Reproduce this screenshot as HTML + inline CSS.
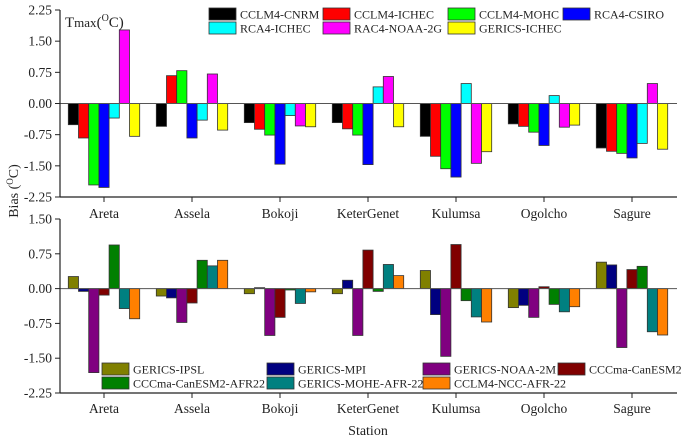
<!DOCTYPE html>
<html><head><meta charset="utf-8"><style>
body{margin:0;background:#fff}
svg, svg text{font-family:"Liberation Serif","DejaVu Serif","Times New Roman",serif;fill:#222}
</style></head><body>
<svg id="c" width="685" height="440" xmlns="http://www.w3.org/2000/svg" font-family="Liberation Serif, DejaVu Serif, serif"></svg>
<script>
const stations=["Areta","Assela","Bokoji","KeterGenet","Kulumsa","Ogolcho","Sagure"];
const topSeries=["CCLM4-CNRM","CCLM4-ICHEC","CCLM4-MOHC","RCA4-CSIRO","RCA4-ICHEC","RAC4-NOAA-2G","GERICS-ICHEC"];
const topColors=["#000000","#ff0000","#00ff00","#0000ff","#00ffff","#ff00ff","#ffff00"];
const topCNRM=[-0.51,-0.55,-0.46,-0.46,-0.79,-0.49,-1.07];
const topICHEC=[-0.83,0.67,-0.62,-0.61,-1.27,-0.55,-1.15];
const topMOHC=[-1.96,0.79,-0.76,-0.76,-1.57,-0.69,-1.20];
const topCSIRO=[-2.02,-0.83,-1.46,-1.47,-1.77,-1.01,-1.31];
const topRICHEC=[-0.35,-0.40,-0.29,0.40,0.48,0.19,-0.96];
const topNOAA=[1.77,0.71,-0.54,0.65,-1.44,-0.57,0.48];
const topGERICS=[-0.79,-0.64,-0.56,-0.56,-1.16,-0.52,-1.10];
const topValues=[topCNRM,topICHEC,topMOHC,topCSIRO,topRICHEC,topNOAA,topGERICS];
const botSeries=["GERICS-IPSL","GERICS-MPI","GERICS-NOAA-2M","CCCma-CanESM2","CCCma-CanESM2-AFR22","GERICS-MOHE-AFR-22","CCLM4-NCC-AFR-22"];
const botColors=["#808000","#000080","#800080","#800000","#008000","#008080","#ff8000"];
const botIPSL=[0.26,-0.16,-0.11,-0.11,0.39,-0.41,0.57];
const botMPI=[-0.06,-0.20,0.02,0.18,-0.56,-0.36,0.51];
const botNOAA=[-1.81,-0.73,-1.01,-1.01,-1.46,-0.62,-1.27];
const botCan=[-0.14,-0.31,-0.62,0.83,0.95,0.04,0.41];
const botCanAFR=[0.94,0.61,-0.03,-0.06,-0.26,-0.34,0.48];
const botMOHE=[-0.43,0.49,-0.32,0.52,-0.61,-0.50,-0.93];
const botNCC=[-0.65,0.61,-0.07,0.28,-0.72,-0.39,-1.00];
const botValues=[botIPSL,botMPI,botNOAA,botCan,botCanAFR,botMOHE,botNCC];
const ticks=[-2.25,-1.50,-0.75,0.00,0.75,1.50,2.25];
const botTicks=[-2.25,-1.50,-0.75,0.00,0.75,1.50];

const svg=document.getElementById('c');
const NS="http://www.w3.org/2000/svg";
const FF="Liberation Serif, DejaVu Serif, serif";
function mk(t,a,parent){const e=document.createElementNS(NS,t);for(const k in a)e.setAttribute(k,a[k]);if(t==='text')e.setAttribute('font-family',FF);(parent||svg).appendChild(e);return e;}
const X0=60,X1=677;
function xs(i){return 104+88*i;}
function panel(name,values,colors,tickList,yTop,yBot,vmax,vmin,labelY){
  const g=mk('g',{});
  
  
  const y=v=>yTop+(vmax-v)/(vmax-vmin)*(yBot-yTop);
  const bw=10.2;
  values.forEach((ser,s)=>{ser.forEach((v,i)=>{
    const x=xs(i)-3.5*bw+s*bw;
    const r=mk('rect',{x:x,y:Math.min(y(v),y(0)),width:bw,height:Math.abs(y(v)-y(0)),fill:colors[s],stroke:'#333','stroke-width':0.8},g);
    
    
  });});
  mk('line',{x1:X0,x2:X1,y1:y(0),y2:y(0),stroke:'#555','stroke-width':1},g);
  const ax=mk('line',{x1:X0,x2:X0,y1:yTop,y2:yBot,stroke:'#222','stroke-width':1.2},g);
  
  mk('line',{x1:X0,x2:X1,y1:yBot,y2:yBot,stroke:'#222','stroke-width':1.2},g);
  tickList.forEach(t=>{
    mk('line',{x1:X0-5,x2:X0,y1:y(t),y2:y(t),stroke:'#222'},g);
    const tx=mk('text',{x:X0-8,y:y(t)+4.5,'text-anchor':'end','font-size':13.5},g);
    tx.textContent=t.toFixed(2);
    
  });
  stations.forEach((s,i)=>{
    mk('line',{x1:xs(i),x2:xs(i),y1:yBot,y2:yBot+5,stroke:'#222'},g);
    const tx=mk('text',{x:xs(i),y:labelY,'text-anchor':'middle','font-size':13.5},g);
    tx.textContent=s;
    
  });
}
panel('top-panel',topValues,topColors,ticks,10,197,2.25,-2.25,218);
panel('bottom-panel',botValues,botColors,botTicks,219,393,1.50,-2.25,413);

function legend(names,colors,cols,rows){
  names.forEach((n,k)=>{
    const c=k%4,r=Math.floor(k/4);
    const x=cols[c],yy=rows[r];
    const sw=mk('rect',{x:x,y:yy,width:27,height:12,fill:colors[k],stroke:'#333','stroke-width':0.8});
    
    const t=mk('text',{x:x+31,y:yy+10.5,'font-size':12});
    t.textContent=n;
    
  });
}
legend(topSeries,topColors,[209,323,448,563],[8,22]);
legend(botSeries,botColors,[102,267,423,558],[363,377]);

const tm=mk('text',{x:65,y:27,'font-size':15});
tm.innerHTML='T<tspan font-size="13">max</tspan>(<tspan font-size="10" dy="-6">O</tspan><tspan dy="6">C)</tspan>';

const yl=mk('text',{x:0,y:0,'font-size':14,'text-anchor':'middle',transform:'translate(18,191) rotate(-90)'});
yl.innerHTML='Bias (<tspan font-size="9" dy="-5">O</tspan><tspan dy="5">C)</tspan>';

const xl=mk('text',{x:368,y:435,'font-size':14,'text-anchor':'middle'});
xl.textContent='Station';

</script>
</body></html>
